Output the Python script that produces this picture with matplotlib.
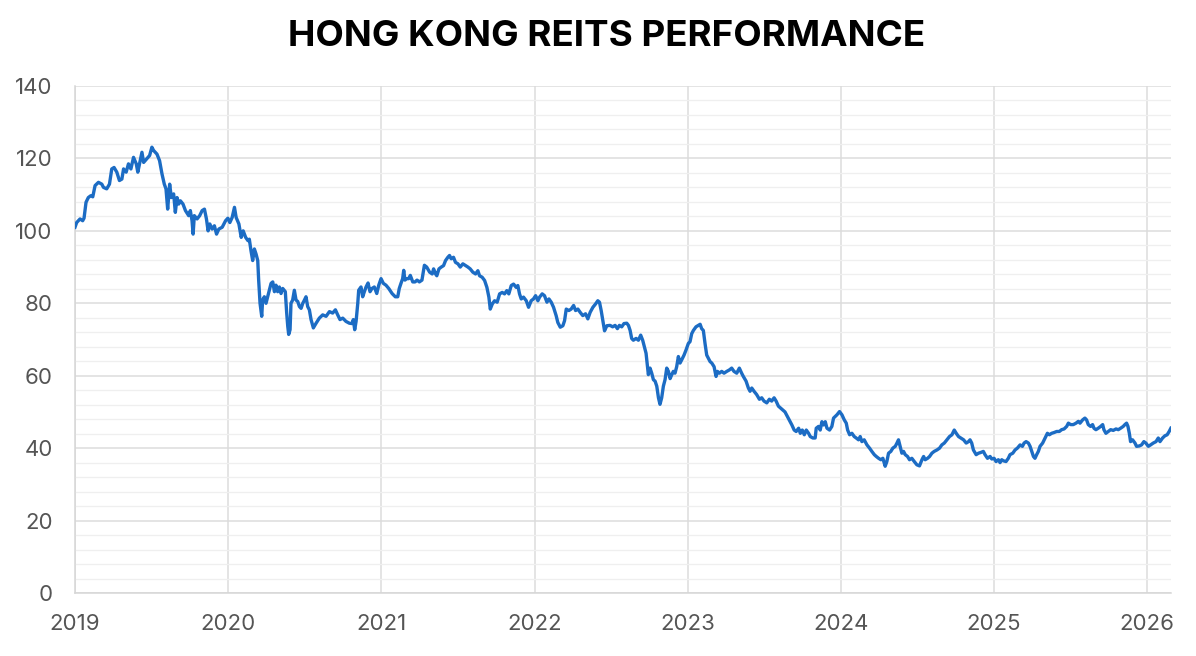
import matplotlib
matplotlib.use("Agg")
import matplotlib.pyplot as plt
from matplotlib.ticker import MultipleLocator

title = "HONG KONG REITS PERFORMANCE"
year_ticks = [2019, 2020, 2021, 2022, 2023, 2024, 2025, 2026]
value_ticks = [0, 20, 40, 60, 80, 100, 120, 140]

# time expressed as decimal years, values as index level
years = [
    2019.000, 2019.011, 2019.033, 2019.050, 2019.059, 2019.072, 2019.087, 2019.103, 2019.116, 2019.131,
    2019.153, 2019.175, 2019.186, 2019.207, 2019.225, 2019.240, 2019.255, 2019.273, 2019.290, 2019.306,
    2019.317, 2019.334, 2019.349, 2019.365, 2019.382, 2019.400, 2019.410, 2019.426, 2019.437, 2019.448,
    2019.469, 2019.487, 2019.502, 2019.513, 2019.535, 2019.552, 2019.568, 2019.583, 2019.594, 2019.605,
    2019.618, 2019.629, 2019.644, 2019.655, 2019.666, 2019.677, 2019.688, 2019.705, 2019.721, 2019.742,
    2019.753, 2019.764, 2019.771, 2019.779, 2019.797, 2019.814, 2019.830, 2019.845, 2019.858, 2019.869,
    2019.880, 2019.895, 2019.910, 2019.924, 2019.939, 2019.961, 2019.983, 2019.998, 2020.011, 2020.026,
    2020.041, 2020.052, 2020.070, 2020.085, 2020.098, 2020.114, 2020.129,
    2020.138, 2020.149, 2020.160, 2020.171, 2020.182, 2020.193, 2020.199, 2020.208, 2020.219, 2020.225,
    2020.236, 2020.247, 2020.258, 2020.269, 2020.280, 2020.291, 2020.302, 2020.312, 2020.323, 2020.334,
    2020.345, 2020.356, 2020.373, 2020.382, 2020.389, 2020.395, 2020.404, 2020.410, 2020.421, 2020.432,
    2020.443, 2020.454, 2020.465, 2020.476, 2020.487, 2020.498, 2020.508, 2020.519, 2020.530, 2020.541,
    2020.556, 2020.574, 2020.595, 2020.617, 2020.639, 2020.661, 2020.682, 2020.700, 2020.715, 2020.730,
    2020.748, 2020.769, 2020.791, 2020.809, 2020.817, 2020.826, 2020.835, 2020.846, 2020.852, 2020.867,
    2020.878, 2020.889, 2020.900, 2020.913, 2020.926, 2020.939, 2020.954, 2020.970, 2020.983, 2020.998,
    2021.013, 2021.030, 2021.048, 2021.070, 2021.091, 2021.107, 2021.117, 2021.128, 2021.139, 2021.146,
    2021.154, 2021.165, 2021.178, 2021.189, 2021.205, 2021.220, 2021.233, 2021.248, 2021.265, 2021.281,
    2021.296,
    2021.315, 2021.332, 2021.341, 2021.354, 2021.362, 2021.376, 2021.391, 2021.406, 2021.419, 2021.434,
    2021.445, 2021.456, 2021.471, 2021.484, 2021.500, 2021.515, 2021.532, 2021.550, 2021.565, 2021.580,
    2021.597, 2021.615, 2021.630, 2021.641, 2021.658, 2021.674, 2021.689, 2021.702, 2021.711, 2021.724,
    2021.739, 2021.756, 2021.772, 2021.789, 2021.804, 2021.819, 2021.832, 2021.848, 2021.863, 2021.880,
    2021.891, 2021.902, 2021.913, 2021.928, 2021.946, 2021.961, 2021.978, 2021.993, 2022.007, 2022.022,
    2022.033, 2022.050, 2022.065, 2022.081, 2022.094, 2022.109, 2022.124, 2022.141, 2022.152, 2022.168,
    2022.185, 2022.196, 2022.207, 2022.224, 2022.239, 2022.255, 2022.268, 2022.283, 2022.298, 2022.315,
    2022.333, 2022.348, 2022.363, 2022.381, 2022.398, 2022.413, 2022.424, 2022.435, 2022.446, 2022.457,
    2022.472,
    2022.493, 2022.510, 2022.526, 2022.541, 2022.554, 2022.569, 2022.584, 2022.602, 2022.613, 2022.624,
    2022.634, 2022.645, 2022.663, 2022.678, 2022.693, 2022.706, 2022.717, 2022.728, 2022.737, 2022.743,
    2022.754, 2022.765, 2022.776, 2022.787, 2022.798, 2022.809, 2022.819, 2022.830, 2022.841, 2022.852,
    2022.863, 2022.874, 2022.885, 2022.896, 2022.906, 2022.917, 2022.928, 2022.939, 2022.950, 2022.961,
    2022.976, 2022.989, 2023.004, 2023.015, 2023.026, 2023.037, 2023.054, 2023.070, 2023.081, 2023.091,
    2023.102, 2023.113, 2023.124, 2023.135, 2023.146, 2023.157, 2023.172, 2023.185, 2023.194, 2023.207,
    2023.222, 2023.237, 2023.255, 2023.272, 2023.287, 2023.302, 2023.320, 2023.337, 2023.352, 2023.363,
    2023.381, 2023.396, 2023.407, 2023.418, 2023.433, 2023.450, 2023.468, 2023.483, 2023.498, 2023.516,
    2023.533, 2023.548, 2023.564, 2023.577, 2023.592, 2023.603, 2023.635,
    2023.669, 2023.680, 2023.695, 2023.708, 2023.724, 2023.735, 2023.748, 2023.761, 2023.774, 2023.789,
    2023.800, 2023.817, 2023.832, 2023.839, 2023.854, 2023.865, 2023.876, 2023.887, 2023.898, 2023.909,
    2023.926, 2023.941, 2023.952, 2023.974, 2023.991, 2024.007, 2024.022, 2024.035, 2024.044, 2024.057,
    2024.072, 2024.087, 2024.100, 2024.115, 2024.126, 2024.137, 2024.152, 2024.170, 2024.187, 2024.202,
    2024.218, 2024.231, 2024.246, 2024.261, 2024.274, 2024.289, 2024.300, 2024.311, 2024.326, 2024.339,
    2024.355, 2024.366, 2024.376, 2024.387, 2024.398, 2024.409, 2024.420, 2024.435, 2024.448, 2024.463,
    2024.479, 2024.496, 2024.513, 2024.529, 2024.540, 2024.550, 2024.566, 2024.579, 2024.594, 2024.609,
    2024.627, 2024.644, 2024.659, 2024.675, 2024.692, 2024.709, 2024.725, 2024.740, 2024.753, 2024.768,
    2024.783, 2024.801, 2024.818, 2024.833,
    2024.843, 2024.854, 2024.865, 2024.883, 2024.898, 2024.913, 2024.930, 2024.941, 2024.957, 2024.974,
    2024.985, 2025.000, 2025.013, 2025.028, 2025.039, 2025.050, 2025.061, 2025.078, 2025.093, 2025.104,
    2025.122, 2025.137, 2025.152, 2025.170, 2025.185, 2025.196, 2025.209, 2025.224, 2025.235, 2025.246,
    2025.257, 2025.267, 2025.278, 2025.289, 2025.300, 2025.317, 2025.333, 2025.348, 2025.361, 2025.376,
    2025.391, 2025.409, 2025.426, 2025.441, 2025.457, 2025.474, 2025.485, 2025.500, 2025.517, 2025.535,
    2025.550, 2025.561, 2025.578, 2025.593, 2025.604, 2025.615, 2025.630, 2025.643, 2025.652, 2025.665,
    2025.680, 2025.696, 2025.709, 2025.717, 2025.730, 2025.746, 2025.761, 2025.778, 2025.796, 2025.811,
    2025.826, 2025.843, 2025.854, 2025.865, 2025.874, 2025.883, 2025.891, 2025.904, 2025.920, 2025.930,
    2025.948, 2025.963, 2025.978, 2025.991, 2026.007, 2026.022, 2026.039, 2026.057, 2026.072, 2026.083,
    2026.100, 2026.115, 2026.130, 2026.143, 2026.154,
]

values = [
    101.0, 102.3, 103.3, 102.8, 103.5, 107.9, 109.2, 109.7, 109.4, 112.5,
    113.4, 112.9, 112.0, 111.6, 112.9, 117.1, 117.5, 116.2, 113.9, 114.3,
    117.1, 116.2, 118.5, 117.1, 120.3, 118.5, 116.2, 119.4, 121.7, 118.9,
    119.9, 120.8, 123.1, 122.2, 121.2, 119.4, 115.7, 112.9, 111.6, 106.0,
    112.9, 109.2, 110.2, 105.1, 109.2, 107.4, 108.3, 107.4, 105.6, 104.2,
    105.6, 102.8, 99.1, 104.2, 103.3, 104.2, 105.6, 106.0, 103.3, 100.0,
    101.9, 100.5, 101.4, 99.1, 100.5, 101.0, 102.8, 103.5, 102.3, 103.7,
    106.5, 103.7, 101.9, 98.2, 100.0, 98.2, 97.3,
    97.7, 94.5, 91.8, 95.0, 93.6, 91.8, 86.4, 80.0, 76.4, 80.9,
    81.8, 80.0, 81.8, 83.6, 85.5, 85.9, 83.2, 85.0, 83.2, 84.5,
    82.7, 84.1, 83.2, 77.3, 73.6, 71.4, 72.7, 80.0, 80.9, 83.6,
    80.9, 80.5, 79.1, 78.6, 80.0, 80.9, 81.8, 79.1, 78.2, 75.5,
    73.2, 74.5, 75.9, 76.8, 76.4, 77.7, 77.3, 78.2, 76.8, 75.5,
    75.9, 75.0, 74.5, 74.4, 75.5, 72.7, 75.0, 80.0, 83.6, 84.5,
    81.8, 83.2, 84.5, 85.6, 83.2, 84.1, 84.5, 82.7, 85.0, 86.8,
    85.5, 85.0, 84.1, 82.7, 81.8, 81.8, 84.1, 85.5, 86.8, 89.1,
    86.4, 86.8, 86.8, 87.7, 85.9, 85.9, 86.4, 85.9, 86.4, 90.5,
    90.0,
    88.6, 88.1, 89.5, 88.1, 87.6, 89.5, 90.0, 90.4, 91.8, 92.7,
    93.2, 92.3, 92.7, 91.3, 90.9, 90.0, 90.9, 90.4, 90.0, 89.5,
    88.6, 88.1, 89.0, 87.6, 87.2, 86.3, 84.4, 81.7, 78.4, 79.8,
    80.7, 80.3, 82.6, 83.0, 82.6, 83.5, 82.6, 84.9, 85.3, 84.4,
    84.9, 82.6, 81.2, 81.7, 80.7, 78.9, 80.7, 81.2, 82.1, 80.7,
    81.7, 82.6, 82.1, 80.3, 81.2, 80.3, 78.9, 76.6, 74.7, 73.4,
    73.8, 75.2, 78.4, 78.0, 78.4, 79.4, 78.0, 78.4, 77.5, 76.6,
    77.1, 75.7, 77.5, 78.9, 79.8, 80.7, 80.3, 78.0, 75.2, 72.4,
    73.8,
    73.9, 73.5, 73.9, 73.0, 73.9, 73.5, 74.4, 74.5, 73.9, 72.5,
    70.3, 69.8, 70.3, 69.8, 71.2, 69.8, 68.0, 66.2, 62.5, 60.3,
    62.1, 60.7, 58.9, 58.5, 57.1, 53.9, 52.1, 53.9, 57.1, 58.9,
    62.1, 61.2, 59.2, 60.3, 61.2, 60.7, 62.5, 65.3, 63.5, 64.4,
    65.7, 67.1, 68.9, 69.4, 71.6, 72.5, 73.5, 73.9, 74.2, 73.0,
    72.5, 68.9, 65.7, 64.8, 63.9, 63.5, 62.5, 59.8, 61.2, 60.7,
    61.2, 60.7, 61.2, 61.6, 62.1, 61.2, 60.7, 62.1, 60.7, 59.8,
    58.5, 56.6, 55.7, 56.6, 55.7, 54.8, 53.5, 53.9, 53.0, 52.5,
    53.5, 53.0, 53.9, 53.0, 51.6, 51.2, 50.0,
    47.3, 46.4, 45.0, 44.6, 45.5, 44.1, 45.0, 43.7, 45.0, 44.1,
    43.2, 42.8, 42.8, 45.5, 46.0, 45.0, 47.3, 46.4, 47.3, 45.5,
    45.0, 46.0, 48.3, 49.2, 50.1, 49.2, 47.8, 46.9, 45.0, 43.7,
    44.1, 43.2, 42.8, 42.3, 43.2, 41.8, 42.3, 40.9, 40.0, 39.1,
    38.2, 37.7, 37.2, 36.8, 37.2, 35.0, 36.3, 38.6, 39.1, 40.0,
    40.5, 41.4, 42.3, 40.5, 38.6, 39.1, 38.2, 37.7, 36.8, 37.2,
    36.3, 35.4, 35.1, 36.8, 37.7, 36.8, 37.2, 37.7, 38.6, 39.1,
    39.5, 40.0, 40.9, 41.4, 42.3, 43.2, 43.7, 45.0, 44.1, 43.2,
    42.8, 42.3, 41.4, 41.8,
    42.3, 41.4, 39.5, 38.2, 38.6, 38.8, 39.1, 38.2, 37.2, 37.7,
    37.0, 37.2, 36.3, 36.8, 36.0, 36.8, 36.5, 36.3, 37.2, 38.2,
    38.6, 39.5, 40.0, 40.9, 40.5, 41.4, 41.8, 41.4, 40.5, 39.1,
    37.7, 37.2, 38.2, 39.1, 40.5, 41.4, 42.8, 44.1, 43.7, 44.1,
    44.3, 44.6, 44.6, 45.1, 45.3, 46.0, 46.9, 46.5, 46.5, 46.9,
    47.4, 46.9, 47.8, 48.3, 47.8, 46.5, 46.0, 46.5, 45.5, 45.1,
    45.5, 46.0, 46.5, 45.1, 44.1, 44.6, 45.1, 44.9, 45.3, 45.1,
    45.5, 46.0, 46.5, 46.9, 46.0, 44.1, 41.8, 42.3, 41.4, 40.5,
    40.6, 40.9, 41.8, 41.4, 40.5, 40.9, 41.4, 41.8, 42.8, 41.8,
    42.8, 43.4, 43.7, 44.6, 45.5,
]

W, H = 1196, 656
fig = plt.figure(figsize=(W / 100, H / 100), dpi=100)
ax = fig.add_axes([75 / W, 63 / H, (1171 - 75) / W, (593 - 86) / H])

ax.plot(years, values, color="#1c6cc4", linewidth=2.4, solid_joinstyle="round", zorder=3)

ax.set_xlim(2019, 2026.155)
ax.set_ylim(0, 140)
ax.set_xticks(year_ticks)
ax.set_xticklabels([str(y) for y in year_ticks])
ax.set_yticks(value_ticks)
ax.yaxis.set_minor_locator(MultipleLocator(4))

ax.grid(which="major", axis="both", color="#dcdcdc", linewidth=1.1, zorder=0)
ax.grid(which="minor", axis="y", color="#efefef", linewidth=0.9, zorder=0)
ax.set_axisbelow(True)

for s in ["top", "right"]:
    ax.spines[s].set_visible(False)
for s in ["left", "bottom"]:
    ax.spines[s].set_color("#d6d6d6")
    ax.spines[s].set_linewidth(1.1)

ax.tick_params(axis="both", which="both", length=0, labelsize=16, labelcolor="#555555")
ax.tick_params(axis="y", pad=16)
ax.tick_params(axis="x", pad=15)
for lab in ax.get_xticklabels() + ax.get_yticklabels():
    lab.set_fontfamily(["Inter", "DejaVu Sans"])

fig.text(606.5 / W, 1 - 37 / H, title, ha="center", va="center",
         fontsize=26.5, fontweight="bold", family=["Inter", "DejaVu Sans"], color="#000000")

fig.savefig("out.png", dpi=100, facecolor="white")
